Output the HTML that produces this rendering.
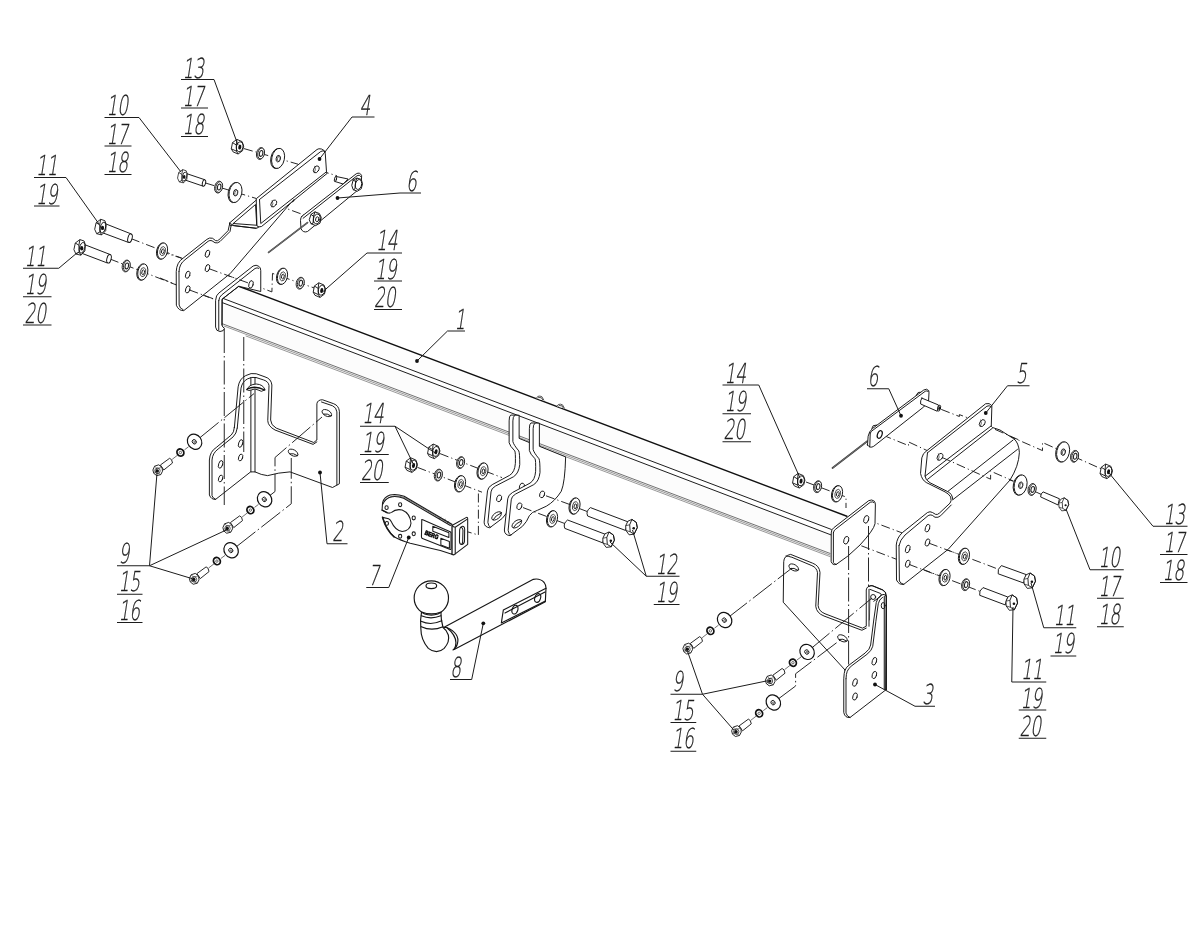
<!DOCTYPE html>
<html lang="en"><head><meta charset="utf-8"><title>Tow bar assembly diagram</title>
<style>html,body{margin:0;padding:0;background:#fff}svg{display:block}</style></head><body>
<svg width="1200" height="935" viewBox="0 0 1200 935">
<rect width="1200" height="935" fill="#fff"/>
<defs>
<g id="nut" fill="none" stroke="#111" stroke-width="0.9" stroke-linejoin="round">
<path d="M-6.2 2.2L-5 -4L-0.6 -7.2L4.6 -5L6.2 -0.4L5 4.2L0.6 7.4L-4.4 5.3Z" fill="#fff"/>
<path d="M-5 -4L-1.2 -1.6L-1 4.6M-6.2 2.2L-1 4.6L0.6 7.4M-1.2 -1.6L-0.6 -7.2"/>
<ellipse cx="2.2" cy="0.2" rx="3.3" ry="5" transform="rotate(12 2.2 0.2)"/>
<ellipse cx="2.3" cy="0.5" rx="1.5" ry="2.5" transform="rotate(12 2.3 0.5)" fill="#111" stroke="none"/>
</g>
<g id="wL" fill="#fff" stroke="#111" stroke-width="0.9">
<ellipse cx="-0.9" cy="0.3" rx="6.3" ry="10.2" transform="rotate(12)"/>
<ellipse cx="0" cy="0" rx="6.3" ry="10.2" transform="rotate(12)"/>
<ellipse cx="0.2" cy="0.2" rx="2.1" ry="3.3" transform="rotate(12)"/>
<ellipse cx="0.7" cy="0.3" rx="1.3" ry="2.5" transform="rotate(12)" stroke-width="0.6"/>
</g>
<g id="wM" fill="#fff" stroke="#111" stroke-width="0.9">
<ellipse cx="-0.9" cy="0.3" rx="4.9" ry="8.2" transform="rotate(12)"/>
<ellipse cx="0" cy="0" rx="4.9" ry="8.2" transform="rotate(12)"/>
<ellipse cx="0.2" cy="0.1" rx="2.7" ry="4.6" transform="rotate(12)" stroke-width="0.7"/>
<ellipse cx="0.4" cy="0.2" rx="1.3" ry="2.4" transform="rotate(12)"/>
</g>
<g id="wS" fill="#fff" stroke="#222">
<ellipse cx="-0.5" cy="0.2" rx="3.8" ry="6" transform="rotate(12)" stroke-width="0.9"/>
<ellipse cx="0.2" cy="0" rx="3.3" ry="5.5" transform="rotate(12)" stroke-width="0.9"/>
<ellipse cx="0.2" cy="0" rx="1.7" ry="3" transform="rotate(12)" stroke-width="1.1"/>
</g>
<g id="hole" fill="#fff" stroke="#111" stroke-width="0.9">
<ellipse rx="2.1" ry="3.7" transform="rotate(18)"/>
</g>

<g id="bhL" fill="none" stroke="#111" stroke-width="0.9" stroke-linejoin="round">
<path d="M-5.6 2L-4.2 -4.6L0.4 -8L4.6 -6.6L5.8 -3L5.4 3.4L1.4 7.6L-3.6 6.4Z" fill="#fff"/>
<path d="M-4.2 -4.6L-0.6 -2.4L-0.4 4.6L-3.6 6.4M-0.6 -2.4L0.4 -8M-0.4 4.6L1.4 7.6"/>
<ellipse cx="2.6" cy="0.2" rx="2.6" ry="5.4" transform="rotate(14 2.6 0.2)"/>
<ellipse cx="2.2" cy="0.6" rx="1.6" ry="2.2" fill="#111" stroke="none"/>
</g>
<g id="bhR" fill="none" stroke="#111" stroke-width="0.9" stroke-linejoin="round">
<path d="M-5.8 -1.5L-3.6 -6L0.4 -7.8L4.8 -4.8L5.8 0.4L2.6 7L-2.4 7.6L-5.6 3.2Z" fill="#fff"/>
<path d="M0.4 -7.8L4.8 -4.8L5.8 0.4L2.6 7L-1.3 4.6L-1.8 -2.4Z"/>
<path d="M-1.8 -2.4L-5.8 -1.5M-1.3 4.6L-5.6 3.2" stroke-width="0.7"/>
<circle cx="2.2" cy="1" r="1.3" fill="#111" stroke="none"/>
</g>
<g id="hole2" fill="#fff" stroke="#111" stroke-width="0.9">
<ellipse rx="2.4" ry="3.4" transform="rotate(25)"/>
<path d="M-1.4 -2.6Q-0.2 0 -1.8 2.8" fill="none" stroke-width="0.6"/>
</g>

<g id="set9" fill="none" stroke="#111" stroke-width="0.9" stroke-linejoin="round">
<path d="M14.6 -11L20 -15.2M27 -20.6L31 -23.6" stroke="#333" stroke-width="0.7"/>
<path d="M2.9 -5.4L12.1 -12.1Q14.6 -11.6 15 -7.4L6.25 -0.4Z" fill="#fff"/>
<path d="M-4.6 -0.4L-2.9 -4.2L1.25 -5.6L4.6 -2.9L5 0.8L3.3 4.2L-0.8 5.25L-3.75 2.9Z" fill="#fff"/>
<path d="M-2.9 -4.2L-0.6 -2.2L2.6 -2.6L4.6 -2.9M-0.6 -2.2L-1.8 1.6L-3.75 2.9M-1.8 1.6L1 3L3.3 4.2" stroke-width="0.5"/>
<circle cx="0" cy="0.4" r="2.7" stroke-width="0.7"/><circle cx="-0.2" cy="0.5" r="1.7" fill="#111" stroke="none"/>
<ellipse cx="22.9" cy="-17.9" rx="3.3" ry="3.7" transform="rotate(-35 22.9 -17.9)" fill="#fff" stroke-width="1.8"/>
<circle cx="22.9" cy="-17.9" r="1.2" stroke-width="0.6"/>
<ellipse cx="37.1" cy="-28.7" rx="6.9" ry="7.9" transform="rotate(-35 37.1 -28.7)" fill="#fff" stroke-width="1.2"/>
<ellipse cx="36.8" cy="-28.6" rx="2" ry="2.3" transform="rotate(-35 36.8 -28.6)"/>
<circle cx="37.1" cy="-28.4" r="0.9" stroke-width="0.6"/>
</g>
</defs>
<!-- p05_axes_left.svg -->
<g id="axesL" stroke="#1c1c1c" stroke-width="0.95" fill="none" stroke-dasharray="9 3 1.2 3">
<path d="M244 148.6L298 164.2"/><path d="M320 170.6L337 175.8"/>
<path d="M205.5 183L256 198.4"/><path d="M276.9 205L315 219"/>
<path d="M131 238.6L207.5 268.1L251.25 284L271.9 291.9L272.5 273.4L320 290"/>
<path d="M110 259L187.75 289.4L216 300"/>
<path d="M160 251.25L181.5 258.2"/><path d="M160 278L175.6 284.4"/>
</g>

<!-- p06_axes_mid.svg -->
<g id="axesM" stroke="#1c1c1c" stroke-width="0.95" fill="none" stroke-dasharray="9 3 1.2 3">
<path d="M440 453.6L502 477.6"/><path d="M579 508.4L590 512.6"/>
<path d="M417.5 467.4L482 492.2"/><path d="M556.5 520.4L567 524.4"/>
<path d="M478.4 493.5V535L458 529"/>
</g>

<!-- p07_axes_right.svg -->
<g id="axesR" stroke="#1c1c1c" stroke-width="0.95" fill="none" stroke-dasharray="9 3 1.2 3">
<!-- beam end plate to bracket5 plate -->
<path d="M866.25 519.4L990 566L1031 582"/>
<path d="M846.25 540L1013 604"/>
<!-- link6 pin axis to flange upper hole, to nut 13 -->
<path d="M941.25 409.4L959.4 416.5V414.6L982 423.4"/>
<path d="M992.5 428.75L1042.5 450.6V442.5L1106 471"/>
<!-- link6 hole axis to flange lower hole to bolt 10 -->
<path d="M882.5 435L908.5 445.6V441.9L940 456.6"/>
<path d="M950 461L990 476.5V470.6L1064 505"/>
<!-- verticals from end plate to bracket 3 -->
<!-- nut 14 right axis -->
<path d="M806 482L846 497V508"/>
</g>

<!-- p10_beam.svg -->
<g id="beam" stroke="#111" stroke-width="0.95" fill="none" stroke-linecap="round" stroke-linejoin="round">
<path d="M238.75 286.25L846.9 516.25L831.25 529.4L222 298Z" fill="#fdfdfd" stroke="none"/>
<path d="M222 302.5L831.25 535L830 556L222.5 325.4Z" fill="#fcfcfc" stroke="none"/>
<path d="M238.75 286.25L846.9 516.25" stroke="#111" stroke-width="1.4"/>
<path d="M222 298L831.25 529.4"/>
<path d="M222 302.5L831.25 535"/>
<path d="M222.5 323.8L830 553.4" stroke-width="0.7" stroke="#333"/>
<path d="M224 326L830 555" stroke-width="0.55" stroke="#444"/>
<path d="M246 336L830 556.6" stroke-width="0.55" stroke="#444"/>
</g>

<!-- p11_endplates.svg -->
<g id="endplates" stroke="#111" stroke-width="0.95" fill="none" stroke-linecap="round" stroke-linejoin="round">
<g transform="translate(200 250) scale(.125)">
<path vector-effect="non-scaling-stroke" fill="#fff" d="M125 400Q128 360 150 345L425 128Q450 115 470 130Q486 140 486 165L486 332L310 290L178 392L176 600Q178 618 196 626L185 645L160 652Q128 650 125 620Z"/>
<path vector-effect="non-scaling-stroke" d="M150 405Q152 375 175 358L440 148Q456 138 470 146M150 405V640"/>
<path vector-effect="non-scaling-stroke" d="M176 600V395L310 290"/>
<ellipse vector-effect="non-scaling-stroke" fill="#fff" cx="408" cy="275" rx="17" ry="31" transform="rotate(15 408 275)"/>
</g>
<g transform="translate(750 450) scale(.125)">
<path vector-effect="non-scaling-stroke" fill="#fff" d="M650 660Q650 635 670 622L950 405Q975 392 995 410Q1003 420 1003 440L1000 590Q990 640 880 760Q780 860 690 915Q660 925 650 895Z"/>
<path vector-effect="non-scaling-stroke" d="M667 662Q670 644 684 634L962 418Q980 410 992 420M667 662V900Q672 914 690 915"/>
<ellipse vector-effect="non-scaling-stroke" fill="#fff" cx="770" cy="722" rx="19" ry="32" transform="rotate(18 770 722)"/>
<ellipse vector-effect="non-scaling-stroke" fill="#fff" cx="930" cy="555" rx="19" ry="32" transform="rotate(18 930 555)"/>
</g>
</g>

<!-- p20_bracket4.svg -->
<g id="bracket4" stroke="#111" stroke-width="0.95" fill="none" stroke-linecap="round" stroke-linejoin="round">
<!-- main plate, tile (160,210) x8 -->
<g transform="translate(160 210) scale(.125)" style="vector-effect:non-scaling-stroke">
<path vector-effect="non-scaling-stroke" fill="#fff" d="M130 490Q132 420 185 385L375 235Q395 218 420 226L445 245Q460 250 470 240L545 165L555 120Q558 100 580 92L1070 -85L560 510L190 805Q150 808 132 765Z"/>
<path vector-effect="non-scaling-stroke" d="M152 492Q154 432 200 398L385 250Q398 240 416 246L440 262Q462 268 480 252L560 172L568 128"/>
<path vector-effect="non-scaling-stroke" d="M152 492L153 760Q158 790 185 798"/>
</g>
</g>

<!-- p21_bracket4b.svg -->
<g id="bracket4b" stroke="#111" stroke-width="0.95" fill="none" stroke-linecap="round" stroke-linejoin="round">
<!-- shelf, tile (170,140) x8 -->
<g transform="translate(170 140) scale(.125)">
<path vector-effect="non-scaling-stroke" fill="#fff" d="M476 664L698 474L716 684Q712 706 688 706L520 686Z"/>
<path vector-effect="non-scaling-stroke" d="M506 668L684 516L694 682L506 668"/>
<path vector-effect="non-scaling-stroke" d="M476 664Q470 690 500 684L688 706"/>
</g>
<!-- flange, tile (250,130) x8 -->
<g transform="translate(250 130) scale(.125)">
<path vector-effect="non-scaling-stroke" fill="#fff" d="M52 548L536 156Q548 146 572 152L596 166Q602 172 602 186L612 334L616 348L92 772Q70 780 58 770Z"/>
<path vector-effect="non-scaling-stroke" d="M76 556L566 172Q586 160 598 172M76 556L86 748L612 334"/>
<g fill="#fff">
<ellipse vector-effect="non-scaling-stroke" cx="530" cy="315" rx="20" ry="30" transform="rotate(30 530 315)"/>
<ellipse vector-effect="non-scaling-stroke" cx="190" cy="588" rx="20" ry="30" transform="rotate(30 190 588)"/>
</g>
<path vector-effect="non-scaling-stroke" d="M518 290Q532 318 514 342M178 563Q192 590 174 615" stroke-width="0.6"/>
<path vector-effect="non-scaling-stroke" d="M338 574L352 556L350 566Z" fill="#222"/>
</g>
<!-- holes on main plate -->
<use href="#hole" x="207.5" y="253.75"/><use href="#hole" x="207.5" y="268.1"/>
<use href="#hole" x="187.75" y="274.75"/><use href="#hole" x="187.75" y="289.4"/>
</g>

<!-- p30_link6L.svg -->
<g id="link6L" stroke="#111" stroke-width="0.95" fill="none" stroke-linecap="round" stroke-linejoin="round">
<g transform="translate(250 130) scale(.125)">
<path vector-effect="non-scaling-stroke" fill="#fff" d="M690 372L785 392L745 432L680 412Z"/>
<ellipse vector-effect="non-scaling-stroke" fill="#fff" cx="684" cy="392" rx="8" ry="21" transform="rotate(12 684 392)"/>
<path vector-effect="non-scaling-stroke" fill="#fff" d="M415 690L850 350Q880 335 893 365L890 440Q888 460 870 475L460 812Q425 825 408 790L404 725Q404 700 415 690Z"/>
<path vector-effect="non-scaling-stroke" d="M425 706L856 366Q878 352 886 372"/>
<path vector-effect="non-scaling-stroke" fill="#fff" d="M815 440L825 400L855 385L890 395L900 430L890 470L858 490L828 478Z"/>
<ellipse vector-effect="non-scaling-stroke" cx="868" cy="436" rx="25" ry="40" transform="rotate(12 868 436)"/>
<path vector-effect="non-scaling-stroke" d="M825 400L845 412L840 470L828 478M845 412L855 385"/>
<path vector-effect="non-scaling-stroke" fill="#fff" d="M475 715L488 675L520 655L555 668L570 700L560 745L525 765L490 750Z"/>
<ellipse vector-effect="non-scaling-stroke" cx="535" cy="712" rx="27" ry="40" transform="rotate(12 535 712)"/>
<ellipse vector-effect="non-scaling-stroke" cx="538" cy="714" rx="13" ry="20" transform="rotate(12 538 714)"/>
<path vector-effect="non-scaling-stroke" d="M488 675L508 690L505 745L490 750M508 690L520 655"/>
</g>
<path d="M307.5 222.6L268.6 252.4" stroke="#333" stroke-width="1.7"/>
<path d="M307.5 222.6L268.6 252.4" stroke="#ccc" stroke-width="0.4"/>
</g>

<!-- p40_fastL.svg -->
<g id="fastL">
<use href="#nut" x="237.5" y="146.6"/><use href="#wS" x="260.9" y="153.4"/><use href="#wL" x="278.1" y="158.4"/>
<use href="#wS" x="219" y="187"/><use href="#wL" x="235.5" y="192.5"/>
<use href="#wM" x="162.5" y="251"/>
<use href="#wS" x="126.6" y="265.9"/><use href="#wM" x="142.8" y="272"/>
<use href="#wM" x="282.5" y="276.25"/><use href="#wS" x="300.6" y="283.1"/><use href="#nut" x="319.4" y="290"/>
<g stroke="#111" stroke-width="0.95" fill="#fff" stroke-linejoin="round">
<!-- bolt 10 -->
<path d="M186 173.4L205 179.8L203.2 186.2L184.5 179.8Z"/><ellipse cx="204" cy="183" rx="1.6" ry="3.2" transform="rotate(14 204 183)"/>
<!-- bolts 11 -->
<path d="M104 223.2L131.4 234L128.4 242.4L101 232.2Z"/><ellipse cx="130" cy="238.2" rx="2.1" ry="4.4" transform="rotate(14 130 238.2)"/>
<path d="M83 244L110.4 254.6L107.4 263L80 252.6Z"/><ellipse cx="109" cy="258.8" rx="2.1" ry="4.4" transform="rotate(14 109 258.8)"/>
</g>
<use href="#bhL" transform="translate(182.3 176.4) scale(.85)"/>
<use href="#bhL" x="100.3" y="227.3"/><use href="#bhL" x="79.5" y="247.6"/>
</g>

<!-- p50_bracket2.svg -->
<g id="bracket2" stroke="#111" stroke-width="0.95" fill="none" stroke-linecap="round" stroke-linejoin="round">
<g transform="translate(190 360) scale(.125)">
<path vector-effect="non-scaling-stroke" fill="#fff" d="M355 540L385 215Q395 150 445 125Q490 100 530 110L600 135Q650 150 655 200L645 480Q645 520 690 545L990 660L1015 640L1015 350Q1020 318 1060 318L1150 350Q1190 365 1195 410L1195 990L1140 1020L800 895Q710 900 620 925Q570 920 520 895L485 895L205 1115Q170 1118 155 1080L155 800Q160 730 210 700L330 600Q352 580 355 540Z"/>
<path vector-effect="non-scaling-stroke" d="M378 545L408 225Q418 172 462 150Q492 134 528 140L590 160Q628 172 632 205L622 485Q624 530 680 560L985 675L1015 655"/>
<path vector-effect="non-scaling-stroke" d="M378 545Q372 590 345 615L225 712Q180 745 176 800L176 1085Q180 1105 205 1115"/>
<path vector-effect="non-scaling-stroke" d="M1052 336L1140 366Q1172 380 1175 415L1175 1000"/>
<path vector-effect="non-scaling-stroke" d="M487 140V895M520 140V895"/>
<path vector-effect="non-scaling-stroke" d="M455 238Q470 195 530 192Q585 195 600 238Q570 262 545 240Q520 222 490 240Q470 250 455 238Z" fill="#fff"/>
<path vector-effect="non-scaling-stroke" d="M458 232Q520 200 598 240" stroke-width="1.3"/>
<g fill="#fff">
<ellipse vector-effect="non-scaling-stroke" cx="405" cy="668" rx="16" ry="32" transform="rotate(18 405 668)"/>
<ellipse vector-effect="non-scaling-stroke" cx="405" cy="780" rx="16" ry="28" transform="rotate(18 405 780)"/>
<ellipse vector-effect="non-scaling-stroke" cx="245" cy="835" rx="16" ry="32" transform="rotate(18 245 835)"/>
<ellipse vector-effect="non-scaling-stroke" cx="245" cy="948" rx="16" ry="28" transform="rotate(18 245 948)"/>
<ellipse vector-effect="non-scaling-stroke" cx="1095" cy="425" rx="42" ry="24" transform="rotate(28 1095 425)"/>
<ellipse vector-effect="non-scaling-stroke" cx="825" cy="742" rx="42" ry="24" transform="rotate(28 825 742)"/>
</g>
<path vector-effect="non-scaling-stroke" d="M1068 432Q1100 425 1128 448M798 750Q830 742 858 765"/>
</g>
</g>

<!-- p51_axes2.svg -->
<g id="axes2" stroke="#1c1c1c" stroke-width="0.95" fill="none" stroke-dasharray="24 3 1.5 3">
<path d="M224.25 329V505"/><path d="M243.75 337V452"/>
</g>

<!-- p52_sets9L.svg -->
<g id="sets9L">
<g stroke="#1c1c1c" stroke-width="0.95" fill="none" stroke-dasharray="24 3 1.5 3">
<path d="M200 437.6L254 393.6"/>
<path d="M270 495.4L275 491.5V457.5L322 417"/>
<path d="M236.5 546.6L291.25 503.75V458"/>
</g>
<use href="#set9" x="157.5" y="470.4"/><use href="#set9" x="227.5" y="528"/><use href="#set9" x="194" y="579"/>
</g>

<!-- p60_ears.svg -->
<g id="ears" stroke="#111" stroke-width="0.95" fill="none" stroke-linecap="round" stroke-linejoin="round">
<defs>
<g id="ear">
<path vector-effect="non-scaling-stroke" fill="#fff" d="M565 -135Q555 -130 555 -90L555 85Q560 110 600 150Q607 160 605 250Q600 320 560 345L420 420Q385 440 382 470L355 720Q355 760 400 765L500 690Q535 655 555 605Q575 575 620 562L690 530Q760 490 810 410Q840 340 845 135L635 50L635 -132Z"/>
<path vector-effect="non-scaling-stroke" d="M598 -133Q585 -125 585 -90L585 75Q590 100 632 150Q640 165 640 260Q632 330 590 357L445 432Q412 450 410 478L385 722Q388 750 405 762"/>
<g fill="#fff">
<ellipse vector-effect="non-scaling-stroke" cx="657" cy="435" rx="19" ry="28" transform="rotate(20 657 435)"/>
<ellipse vector-effect="non-scaling-stroke" cx="475" cy="530" rx="19" ry="28" transform="rotate(20 475 530)"/>
<ellipse vector-effect="non-scaling-stroke" cx="455" cy="670" rx="46" ry="24" transform="rotate(-38 455 670)"/>
</g>
<path vector-effect="non-scaling-stroke" d="M428 700Q445 665 490 648"/>
</g>
</defs>
<g transform="translate(460 440) scale(.125)">
<use href="#ear" x="-162" y="-63"/>
<use href="#ear"/>
</g>
</g>

<!-- p61_fastM.svg -->
<g id="fastM">
<g stroke="#1c1c1c" stroke-width="0.95" fill="none" stroke-dasharray="9 3 1.2 3">
<path d="M546 495.8L570 504.6"/><path d="M523 507.6L547 516.6"/>
</g>
<use href="#nut" x="433.75" y="451.25"/><use href="#nut" x="411.25" y="465"/>
<use href="#wS" x="461" y="462.5"/><use href="#wM" x="483" y="471"/>
<use href="#wS" x="438.75" y="475"/><use href="#wM" x="460.5" y="483.75"/>
<use href="#wM" x="575" y="506"/><use href="#wM" x="552.5" y="518.75"/>
<g stroke="#111" stroke-width="0.95" fill="#fff" stroke-linejoin="round">
<path d="M590.4 507.6L628.4 522L625.4 530.4L587.6 516Q585.6 511 590.4 507.6Z"/>
<path d="M567.6 520L605.6 534.4L602.6 542.8L564.8 528.4Q562.8 523.4 567.6 520Z"/>
<!-- tabs on beam -->
<path d="M536.25 398.5L537.75 396.4Q540 395.6 541.9 396.7L544 400.4M537.6 398.6L538.6 397.4L541.4 397.8L542.8 400" stroke-width="0.7"/>
<path d="M556.85 406.6L558.35 404.5Q560.6 403.7 562.5 404.8L564.6 408.5M558.2 406.7L559.2 405.5L562 405.9L563.4 408.1" stroke-width="0.7"/>
</g>
<use href="#bhR" x="631.5" y="527.2"/><use href="#bhR" x="608.6" y="539.8"/>
</g>

<!-- p70_part7.svg -->
<g id="part7" stroke="#1a1a1a" stroke-width="1.05" fill="none" stroke-linecap="round" stroke-linejoin="round">
<g transform="translate(370 480) scale(.1005)">
<!-- bent tab -->
<path vector-effect="non-scaling-stroke" fill="#fff" d="M815 452L960 372Q972 368 972 385L972 640L835 745L815 740Z"/>
<path vector-effect="non-scaling-stroke" d="M848 470L848 735M815 452Q830 470 848 470L965 392"/>
<path vector-effect="non-scaling-stroke" fill="#fff" d="M915 462Q940 455 942 490L940 610Q935 640 912 642Q890 640 890 610L892 495Q895 468 915 462Z"/>
<path vector-effect="non-scaling-stroke" d="M905 470Q925 475 925 500L922 615Q920 632 912 640"/>
<!-- main plate -->
<path vector-effect="non-scaling-stroke" fill="#fff" d="M120 300L125 225Q140 170 200 150Q260 135 340 162L815 440L815 740L700 702Q520 660 400 630Q300 600 240 565Q165 500 125 372L185 385Q205 395 215 420Q250 500 320 512Q400 505 408 430Q400 330 320 298Q255 285 215 322Q195 335 170 325Z"/>
<path vector-effect="non-scaling-stroke" d="M128 240Q150 188 205 170Q262 156 335 182L800 452" />
<path vector-effect="non-scaling-stroke" d="M140 212Q170 170 240 158Q300 158 345 175L812 446" stroke-width="0.6"/>
<path vector-effect="non-scaling-stroke" d="M125 372Q160 500 240 565" stroke-width="1.6"/>
<path vector-effect="non-scaling-stroke" d="M120 300L170 325" stroke-width="1.4"/>
<g fill="#fff">
<ellipse vector-effect="non-scaling-stroke" cx="165" cy="275" rx="16" ry="19"/>
<ellipse vector-effect="non-scaling-stroke" cx="300" cy="246" rx="16" ry="19"/>
<ellipse vector-effect="non-scaling-stroke" cx="435" cy="378" rx="16" ry="19"/>
<ellipse vector-effect="non-scaling-stroke" cx="435" cy="535" rx="16" ry="19"/>
<ellipse vector-effect="non-scaling-stroke" cx="300" cy="560" rx="16" ry="19"/>
<ellipse vector-effect="non-scaling-stroke" cx="168" cy="432" rx="16" ry="19"/>
</g>
<path vector-effect="non-scaling-stroke" d="M515 398Q512 392 525 395L798 515Q806 520 806 530L806 685Q804 694 792 690L522 582Q512 578 512 565Z" stroke-width="1.1"/>
<path vector-effect="non-scaling-stroke" d="M625 460L785 525L785 572L625 510Z"/>
<path vector-effect="non-scaling-stroke" d="M705 580L790 612L790 680L705 646Z"/>
<path vector-effect="non-scaling-stroke" d="M690 385L705 370M735 405L750 392M770 425L785 412" stroke-width="0.6"/>
</g>
<g style="filter:grayscale(1)"><text transform="translate(424.2 534.2) rotate(22) scale(.8 1)" font-family="'Liberation Sans',sans-serif" font-weight="bold" font-size="6.2" fill="#000" stroke="#000" stroke-width="0.55">BERG</text></g>
</g>

<!-- p80_part8.svg -->
<g id="part8" stroke="#151515" stroke-width="1.15" fill="none" stroke-linecap="round" stroke-linejoin="round">
<g transform="translate(390 560) scale(.16667)">
<!-- shaft -->
<path vector-effect="non-scaling-stroke" fill="#fff" d="M322 405L860 116Q900 108 925 135Q936 150 936 168L932 250L385 537Q420 470 340 405Z"/>
<path vector-effect="non-scaling-stroke" d="M340 405Q420 440 405 500Q400 525 378 540"/>
<path vector-effect="non-scaling-stroke" d="M680 300L936 170M668 378L932 246M680 300L668 378M690 318L930 192" />
<ellipse vector-effect="non-scaling-stroke" cx="750" cy="298" rx="17" ry="27" transform="rotate(18 750 298)" stroke-width="1.1"/>
<ellipse vector-effect="non-scaling-stroke" cx="886" cy="228" rx="17" ry="27" transform="rotate(18 886 228)" stroke-width="1.1"/>
<!-- neck + bend -->
<path vector-effect="non-scaling-stroke" fill="#fff" d="M190 305Q180 360 185 410Q185 480 230 530Q280 570 325 530Q360 490 350 450Q340 420 318 405Q305 360 305 305Z"/>
<path vector-effect="non-scaling-stroke" d="M188 335Q245 360 305 335M186 368Q245 395 310 365M188 400Q250 430 318 400"/>
<!-- ball -->
<circle vector-effect="non-scaling-stroke" cx="248" cy="228" r="103" fill="#fff"/>
<ellipse vector-effect="non-scaling-stroke" cx="248" cy="155" rx="32" ry="17"/>
<path vector-effect="non-scaling-stroke" d="M190 312Q248 335 306 312"/>
</g>
</g>

<!-- p90_bracket5.svg -->
<g id="bracket5" stroke="#111" stroke-width="0.95" fill="none" stroke-linecap="round" stroke-linejoin="round">
<g transform="translate(890 380) scale(.125)">
<path vector-effect="non-scaling-stroke" fill="#fff" d="M255 620Q262 585 295 565L765 190Q795 180 815 205L810 370L820 380L880 400L990 470Q1030 500 1035 580Q1030 690 960 800L465 1355L110 1635Q70 1640 52 1600L50 1320Q55 1260 100 1220L300 1060Q320 1048 340 1060L365 1075Q380 1080 395 1065L480 985Q495 970 485 935Q470 910 440 895L290 820Q255 800 245 750Z"/>
<path vector-effect="non-scaling-stroke" d="M300 582L775 210Q795 198 808 215M300 582L280 770L808 368"/>
<path vector-effect="non-scaling-stroke" d="M300 795L820 385"/>
<path vector-effect="non-scaling-stroke" d="M280 770Q282 800 320 822L460 892Q500 910 502 955"/>
<path vector-effect="non-scaling-stroke" d="M462 892L985 480M502 958L1020 555"/>
<path vector-effect="non-scaling-stroke" d="M72 1325Q80 1280 120 1240L305 1085Q320 1075 338 1082L360 1098Q385 1104 405 1086L490 1000M72 1325L75 1608Q85 1630 110 1635"/>
<g fill="#fff">
<ellipse vector-effect="non-scaling-stroke" cx="738" cy="345" rx="20" ry="30" transform="rotate(30 738 345)"/>
<ellipse vector-effect="non-scaling-stroke" cx="400" cy="615" rx="20" ry="30" transform="rotate(30 400 615)"/>
<ellipse vector-effect="non-scaling-stroke" cx="300" cy="1185" rx="17" ry="32" transform="rotate(18 300 1185)"/>
<ellipse vector-effect="non-scaling-stroke" cx="300" cy="1300" rx="17" ry="30" transform="rotate(18 300 1300)"/>
<ellipse vector-effect="non-scaling-stroke" cx="142" cy="1352" rx="17" ry="32" transform="rotate(18 142 1352)"/>
<ellipse vector-effect="non-scaling-stroke" cx="142" cy="1470" rx="17" ry="30" transform="rotate(18 142 1470)"/>
</g>
<path vector-effect="non-scaling-stroke" d="M726 320Q740 348 722 372M388 590Q402 618 384 642" stroke-width="0.6"/>
</g>
</g>

<!-- p91_link6R.svg -->
<g id="link6R" stroke="#111" stroke-width="0.95" fill="none" stroke-linecap="round" stroke-linejoin="round">
<path d="M867.25 441.25L832.5 468" stroke="#333" stroke-width="1.7"/>
<path d="M867.25 441.25L832.5 468" stroke="#ccc" stroke-width="0.4"/>
<g transform="translate(820 380) scale(.125)">
<path vector-effect="non-scaling-stroke" fill="#fff" d="M415 388L425 366L455 360L462 376M770 122L785 100L802 98"/>
<path vector-effect="non-scaling-stroke" fill="#fff" d="M380 520L385 450Q392 412 420 388L830 80Q855 65 870 85L872 100L868 175L830 215L430 530Q400 550 380 520Z"/>
<path vector-effect="non-scaling-stroke" d="M402 425Q408 410 425 400L842 90Q856 82 866 92M402 425L398 535"/>
<ellipse vector-effect="non-scaling-stroke" cx="478" cy="436" rx="18" ry="32" transform="rotate(20 478 436)" stroke-width="1.2"/>
<path vector-effect="non-scaling-stroke" fill="#fff" d="M815 145L948 200L938 250L805 192Q800 165 815 145Z"/>
<ellipse vector-effect="non-scaling-stroke" cx="953" cy="225" rx="11" ry="25" transform="rotate(14 953 225)" fill="#fff"/>
<ellipse vector-effect="non-scaling-stroke" cx="955" cy="226" rx="5" ry="12" transform="rotate(14 955 226)" fill="#444"/>
</g>
</g>

<!-- p92_fastR.svg -->
<g id="fastR">
<use href="#wL" x="1063.1" y="451.9"/><use href="#wS" x="1075" y="456.25"/><use href="#nut" x="1106.25" y="471.25"/>
<use href="#wL" x="1020.6" y="485"/><use href="#wS" x="1032.5" y="489.4"/>
<use href="#wM" x="964.4" y="556.25"/><use href="#wM" x="945" y="577.5"/><use href="#wS" x="966" y="584.6"/>
<use href="#nut" x="798.75" y="480.6"/><use href="#wS" x="818" y="486.6"/><use href="#wM" x="837.5" y="493.75"/>
<g stroke="#111" stroke-width="0.95" fill="#fff" stroke-linejoin="round">
<path d="M1043.1 491.9L1059.4 498.75L1058.1 505L1040.6 496.9Q1040.6 493.5 1043.1 491.9Z"/>
<path d="M1001.4 565.6L1026.2 574.6L1023.6 583L998.2 573.8Q997 569 1001.4 565.6Z"/>
<path d="M983 587.6L1007.8 597L1005.2 604.9L979.7 595.3Q978.6 590.6 983 587.6Z"/>
</g>
<use href="#bhR" transform="translate(1063.75 504.4) scale(.85)"/>
<use href="#bhR" x="1029.7" y="580.8"/><use href="#bhR" x="1011.75" y="602.7"/>
</g>

<!-- p93_bracket3.svg -->
<g id="bracket3" stroke="#111" stroke-width="0.95" fill="none" stroke-linecap="round" stroke-linejoin="round">
<g transform="translate(770 540) scale(.125)">
<path vector-effect="non-scaling-stroke" fill="#fff" d="M110 170Q112 125 165 115L340 185Q395 205 400 260L385 525Q390 570 440 590L740 705L770 690L770 400Q775 365 815 365L900 400Q930 412 930 450L930 1200L600 1040L108 500Z"/>
<path vector-effect="non-scaling-stroke" d="M128 128Q150 130 175 138L335 205Q375 222 380 262L366 530Q372 585 432 608L735 722L770 705"/>
<path vector-effect="non-scaling-stroke" d="M792 395V690"/>
<g fill="#fff">
<ellipse vector-effect="non-scaling-stroke" cx="190" cy="220" rx="42" ry="24" transform="rotate(28 190 220)"/>
<ellipse vector-effect="non-scaling-stroke" cx="580" cy="787" rx="42" ry="24" transform="rotate(28 580 787)"/>
</g>
<path vector-effect="non-scaling-stroke" d="M160 228Q195 218 222 242M552 795Q585 785 612 808"/>
<!-- front flange -->
<path vector-effect="non-scaling-stroke" fill="#fff" d="M600 1040Q610 1015 640 995L760 905Q800 875 805 840L830 640L850 500Q858 462 890 440Q915 425 930 450L925 1200L640 1420Q600 1425 590 1380L590 1110Q592 1060 600 1040Z"/>
<path vector-effect="non-scaling-stroke" d="M608 1110Q610 1068 618 1050Q628 1025 655 1005L775 915Q815 885 822 850L847 650L866 510Q872 478 900 458M608 1110V1385Q615 1412 640 1420"/>
<path vector-effect="non-scaling-stroke" d="M792 372Q805 362 822 366L905 400Q930 412 930 450M800 395L885 428Q900 440 880 455L830 490"/>
<circle vector-effect="non-scaling-stroke" cx="825" cy="456" r="20"/>
<path vector-effect="non-scaling-stroke" d="M800 470L795 640" stroke-width="0.6"/>
<ellipse vector-effect="non-scaling-stroke" cx="905" cy="525" rx="15" ry="25" fill="#fff"/>
<path vector-effect="non-scaling-stroke" d="M914 450V1195M930 450V1200" stroke-width="1"/>
<g fill="#fff">
<ellipse vector-effect="non-scaling-stroke" cx="835" cy="970" rx="17" ry="32" transform="rotate(18 835 970)"/>
<ellipse vector-effect="non-scaling-stroke" cx="835" cy="1080" rx="17" ry="30" transform="rotate(18 835 1080)"/>
<ellipse vector-effect="non-scaling-stroke" cx="680" cy="1140" rx="17" ry="32" transform="rotate(18 680 1140)"/>
<ellipse vector-effect="non-scaling-stroke" cx="680" cy="1252" rx="17" ry="30" transform="rotate(18 680 1252)"/>
</g>
</g>
</g>

<!-- p94_sets9R.svg -->
<g id="sets9R">
<g stroke="#1c1c1c" stroke-width="0.95" fill="none" stroke-dasharray="24 3 1.5 3">
<path d="M728 617.6L792 568"/>
<path d="M811 648.6L872 598"/>
<path d="M776.9 700L795.6 686V673.75L841 639.4"/>
<path d="M848.6 546V665"/><path d="M868.5 526V586"/>
</g>
<use href="#set9" x="687.5" y="648.75"/><use href="#set9" x="770" y="680.6"/><use href="#set9" x="736.25" y="731.25"/>
</g>

<!-- p95_overlays.svg -->
<g id="overlays" stroke="#1c1c1c" stroke-width="0.95" fill="none" stroke-dasharray="9 3 1.2 3">
<path d="M209 268.7L250 283.6"/><path d="M189.5 290L215 299.4"/>
<path d="M929 543.2L958 554"/><path d="M909 564.4L939 575.8"/>
<path d="M995 429.4L1020 440.4"/>
<path d="M942 457.4L990.6 479.2V471.4M993.75 472.5L1013.75 481.25"/>
</g>

<g stroke="#1c1c1c" stroke-width="1" fill="none">
<path d="M181 79.5H214"/><path d="M181 108H208"/><path d="M181 136.5H208"/><path d="M104.5 117.5H139"/><path d="M104.5 146H131.5"/><path d="M104.5 174.5H131.5"/><path d="M34 177.5H66"/><path d="M34 206H59.5"/><path d="M23 268.25H58.75"/><path d="M23 296.75H51.5"/><path d="M23 325H51.5"/><path d="M352 117H374.5"/><path d="M400 193H421"/><path d="M367 253H402"/><path d="M374 281H402"/><path d="M374 309.5H402"/><path d="M447.5 331H465"/><path d="M722.5 385H758.75"/><path d="M722.5 413.75H751"/><path d="M722.5 441.75H751"/><path d="M867 388.75H888.75"/><path d="M1007.5 385.75H1029.5"/><path d="M1153 526.25H1187.5"/><path d="M1160 554.5H1187.5"/><path d="M1160 582.5H1187.5"/><path d="M1090 569.75H1123.75"/><path d="M1097 598.25H1123.75"/><path d="M1097 626.75H1123.75"/><path d="M1043.75 627.75H1076.25"/><path d="M1050.5 656H1076.25"/><path d="M1011.75 682H1046.25"/><path d="M1018.75 710H1046.25"/><path d="M1018.75 738.25H1046.25"/><path d="M915 706.25H935"/><path d="M646.25 576.25H679.5"/><path d="M653.75 604.5H679.5"/><path d="M670.5 694.25H702.5"/><path d="M670.5 722.5H696.25"/><path d="M670.5 751.25H696.25"/><path d="M117 565.75H149.5"/><path d="M117 594.25H142.5"/><path d="M117 622.5H142.5"/><path d="M327 543.75H347.5"/><path d="M360 426.25H395"/><path d="M360 454.5H388.75"/><path d="M360 482.5H388.75"/><path d="M366.25 587.5H388.75"/><path d="M450 679.5H471.7"/><path d="M214 79.5L238 145"/><path d="M139 117.5L181 172"/><path d="M66 177.5L99 224"/><path d="M58.75 268.25L77.5 252.5"/><path d="M352 117L319.5 159"/><path d="M400 193L337.5 198"/><path d="M367 253L322.5 292"/><path d="M447.5 331L417 361"/><path d="M758.75 385L800 478"/><path d="M888.75 388.75L901 415.75"/><path d="M1007.5 385.75L985.75 413"/><path d="M1153 526.25L1109 473"/><path d="M1090 569.75L1066 509"/><path d="M1043.75 627.75L1031 583"/><path d="M1011.75 682L1013 607"/><path d="M915 706.25L875 684.5"/><path d="M646.25 576.25L632.5 530"/><path d="M646.25 576.25L610 542"/><path d="M702.5 694.25L687.5 651.25"/><path d="M702.5 694.25L767.5 680.75"/><path d="M702.5 694.25L733.75 730"/><path d="M149.5 565.75L157 473"/><path d="M149.5 565.75L226.25 530"/><path d="M149.5 565.75L192.5 578.75"/><path d="M327 543.75L320 472.5"/><path d="M395 426.25L436.25 453.75"/><path d="M395 426.25L413.75 465"/><path d="M388.75 587.5L408.75 537.5"/><path d="M471.7 679.5L483.3 623.3"/>
</g>
<g fill="#111"><circle cx="319.5" cy="159" r="1.9"/><circle cx="337.5" cy="198" r="1.9"/><circle cx="417" cy="361" r="1.9"/><circle cx="901" cy="415.75" r="1.9"/><circle cx="985.75" cy="413" r="1.9"/><circle cx="875" cy="684.5" r="1.9"/><circle cx="320" cy="472.5" r="1.9"/><circle cx="408.75" cy="537.5" r="1.9"/><circle cx="483.3" cy="623.3" r="1.9"/></g>
<g fill="#1e1e1e" stroke="#1e1e1e" stroke-width="0.28" opacity="0.999" font-family="'DejaVu Sans Light','DejaVu Sans','Liberation Sans',sans-serif" font-weight="200" font-style="italic" font-size="27.5">
<text transform="translate(182.5 77.5) scale(0.62 1)">13</text><text transform="translate(182.5 105.5) scale(0.62 1)">17</text><text transform="translate(182.5 134) scale(0.62 1)">18</text><text transform="translate(106.5 115) scale(0.62 1)">10</text><text transform="translate(106.5 143.7) scale(0.62 1)">17</text><text transform="translate(106.5 172) scale(0.62 1)">18</text><text transform="translate(36.0 175) scale(0.62 1)">11</text><text transform="translate(36.0 204) scale(0.62 1)">19</text><text transform="translate(24.5 265.5) scale(0.62 1)">11</text><text transform="translate(24.5 293.75) scale(0.62 1)">19</text><text transform="translate(24.5 322.5) scale(0.62 1)">20</text><text transform="translate(359.5 115) scale(0.62 1)">4</text><text transform="translate(406.0 190.5) scale(0.62 1)">6</text><text transform="translate(376.0 250) scale(0.62 1)">14</text><text transform="translate(375.0 279) scale(0.62 1)">19</text><text transform="translate(374.0 307) scale(0.62 1)">20</text><text transform="translate(454.5 328.75) scale(0.62 1)">1</text><text transform="translate(724.5 382.5) scale(0.62 1)">14</text><text transform="translate(724.5 411) scale(0.62 1)">19</text><text transform="translate(723.5 439) scale(0.62 1)">20</text><text transform="translate(867.5 386) scale(0.62 1)">6</text><text transform="translate(1016.0 383) scale(0.62 1)">5</text><text transform="translate(1163.5 523.75) scale(0.62 1)">13</text><text transform="translate(1163.5 552) scale(0.62 1)">17</text><text transform="translate(1162.5 580) scale(0.62 1)">18</text><text transform="translate(1098.5 567) scale(0.62 1)">10</text><text transform="translate(1098.5 595.5) scale(0.62 1)">17</text><text transform="translate(1098.5 623.75) scale(0.62 1)">18</text><text transform="translate(1053.5 625) scale(0.62 1)">11</text><text transform="translate(1052.5 653.25) scale(0.62 1)">19</text><text transform="translate(1021.0 679.25) scale(0.62 1)">11</text><text transform="translate(1020.5 707.5) scale(0.62 1)">19</text><text transform="translate(1019.5 735.5) scale(0.62 1)">20</text><text transform="translate(922.25 703.75) scale(0.62 1)">3</text><text transform="translate(655.5 573.75) scale(0.62 1)">12</text><text transform="translate(655.5 601.75) scale(0.62 1)">19</text><text transform="translate(672.25 691.25) scale(0.62 1)">9</text><text transform="translate(672.25 720) scale(0.62 1)">15</text><text transform="translate(672.25 748.25) scale(0.62 1)">16</text><text transform="translate(118.5 562.5) scale(0.62 1)">9</text><text transform="translate(118.5 591.25) scale(0.62 1)">15</text><text transform="translate(118.5 619.5) scale(0.62 1)">16</text><text transform="translate(332.25 541.25) scale(0.62 1)">2</text><text transform="translate(362.25 422.5) scale(0.62 1)">14</text><text transform="translate(362.25 451.75) scale(0.62 1)">19</text><text transform="translate(361.0 480) scale(0.62 1)">20</text><text transform="translate(368.5 585) scale(0.62 1)">7</text><text transform="translate(450.2 677.2) scale(0.62 1)">8</text>
</g>
</svg>
</body></html>
